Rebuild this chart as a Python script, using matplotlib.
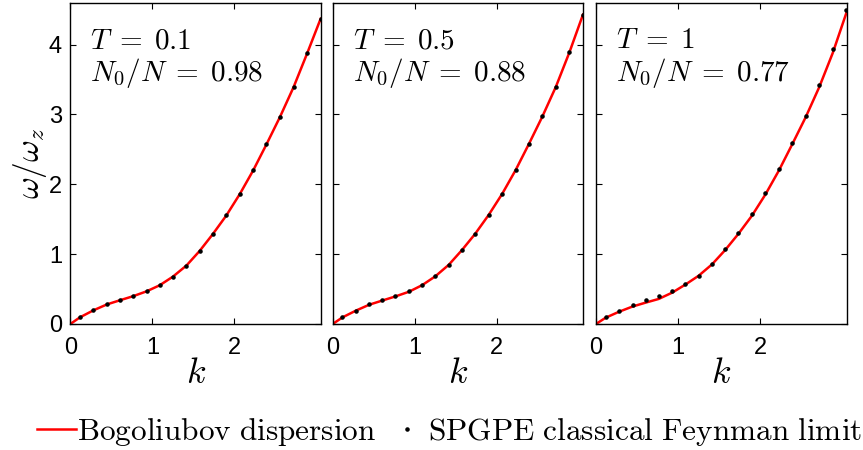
import matplotlib
matplotlib.use("Agg")
import matplotlib.pyplot as plt

plt.rcParams['mathtext.fontset'] = 'cm'
plt.rcParams['font.family'] = ['Liberation Sans', 'DejaVu Sans']

# momentum values of the SPGPE points
k_pts = [0.118, 0.28, 0.445, 0.605, 0.765, 0.93, 1.09, 1.25, 1.415, 1.575,
         1.735, 1.9, 2.065, 2.23, 2.39, 2.555, 2.72, 2.885, 3.05]

# SPGPE classical Feynman limit (dots)
w_T01 = [0.096, 0.197, 0.283, 0.34, 0.397, 0.469, 0.555, 0.679, 0.837, 1.047,
         1.287, 1.554, 1.861, 2.205, 2.573, 2.966, 3.39, 3.874, 4.37]
w_T05 = [0.096, 0.19, 0.283, 0.344, 0.406, 0.469, 0.56, 0.684, 0.851, 1.062,
         1.291, 1.564, 1.865, 2.209, 2.578, 2.974, 3.40, 3.898, 4.43]
w_T1 = [0.096, 0.19, 0.277, 0.344, 0.406, 0.473, 0.569, 0.693, 0.861, 1.072,
        1.306, 1.568, 1.875, 2.224, 2.592, 2.984, 3.425, 3.931, 4.50]

# Bogoliubov dispersion (line), read at k = 0 and the same k values
k_line = [0.0] + k_pts
bog_T01 = [0.0, 0.096, 0.195, 0.28, 0.34, 0.398, 0.468, 0.555, 0.678, 0.837, 1.045,
           1.285, 1.552, 1.86, 2.203, 2.572, 2.965, 3.39, 3.872, 4.37]
bog_T05 = [0.0, 0.094, 0.19, 0.276, 0.336, 0.395, 0.462, 0.556, 0.682, 0.848, 1.058,
           1.289, 1.56, 1.862, 2.205, 2.575, 2.97, 3.397, 3.89, 4.43]
bog_T1 = [0.0, 0.09, 0.175, 0.25, 0.306, 0.359, 0.45, 0.565, 0.69, 0.855, 1.06,
          1.29, 1.55, 1.855, 2.2, 2.57, 2.96, 3.39, 3.88, 4.45]

labels_T = [r'$T\;=\;0.1$', r'$T\;=\;0.5$', r'$T\;=\;1$']
labels_N = [r'$N_0/N\;=\;0.98$', r'$N_0/N\;=\;0.88$', r'$N_0/N\;=\;0.77$']
dots = [w_T01, w_T05, w_T1]
lines = [bog_T01, bog_T05, bog_T1]

fig = plt.figure(figsize=(8.63, 4.5), dpi=100)
lefts = [0.0815, 0.3855, 0.6906]

for i in range(3):
    ax = fig.add_axes([lefts[i], 0.28, 0.2905, 0.714])
    l1, = ax.plot(k_line, lines[i], color='red', lw=1.8)
    l2, = ax.plot(k_pts, dots[i], 'k.', ms=4.5, ls='none')
    ax.set_xlim(0, 3.055)
    ax.set_ylim(0, 4.6)
    ax.set_xticks([0, 1, 2])
    ax.set_yticks([0, 1, 2, 3, 4])
    ax.tick_params(direction='in', top=True, right=True, labelsize=17,
                   length=4, width=0.8)
    ax.tick_params(axis='x', pad=9)
    ax.tick_params(axis='y', pad=6)
    if i > 0:
        ax.set_yticklabels([])
    else:
        ax.set_ylabel(r'$\omega/\omega_z$', fontsize=24, labelpad=0)
    ax.set_xlabel(r'$k$', fontsize=26, labelpad=-2)
    ax.text(0.08, 0.858, labels_T[i], transform=ax.transAxes, fontsize=21,
            va='baseline')
    ax.text(0.08, 0.756, labels_N[i], transform=ax.transAxes, fontsize=21,
            va='baseline')
    for s in ax.spines.values():
        s.set_linewidth(1.0)

fig.legend([l1, l2], [r'$\mathrm{Bogoliubov\ dispersion}$',
                      r'$\mathrm{SPGPE\ classical\ Feynman\ limit}$'],
           loc='center', bbox_to_anchor=(0.521, 0.04), ncol=2, frameon=False,
           fontsize=22.5, handlelength=1.25, handletextpad=0.05,
           columnspacing=0.35, borderpad=0, borderaxespad=0)

fig.savefig('out.png', dpi=100)
